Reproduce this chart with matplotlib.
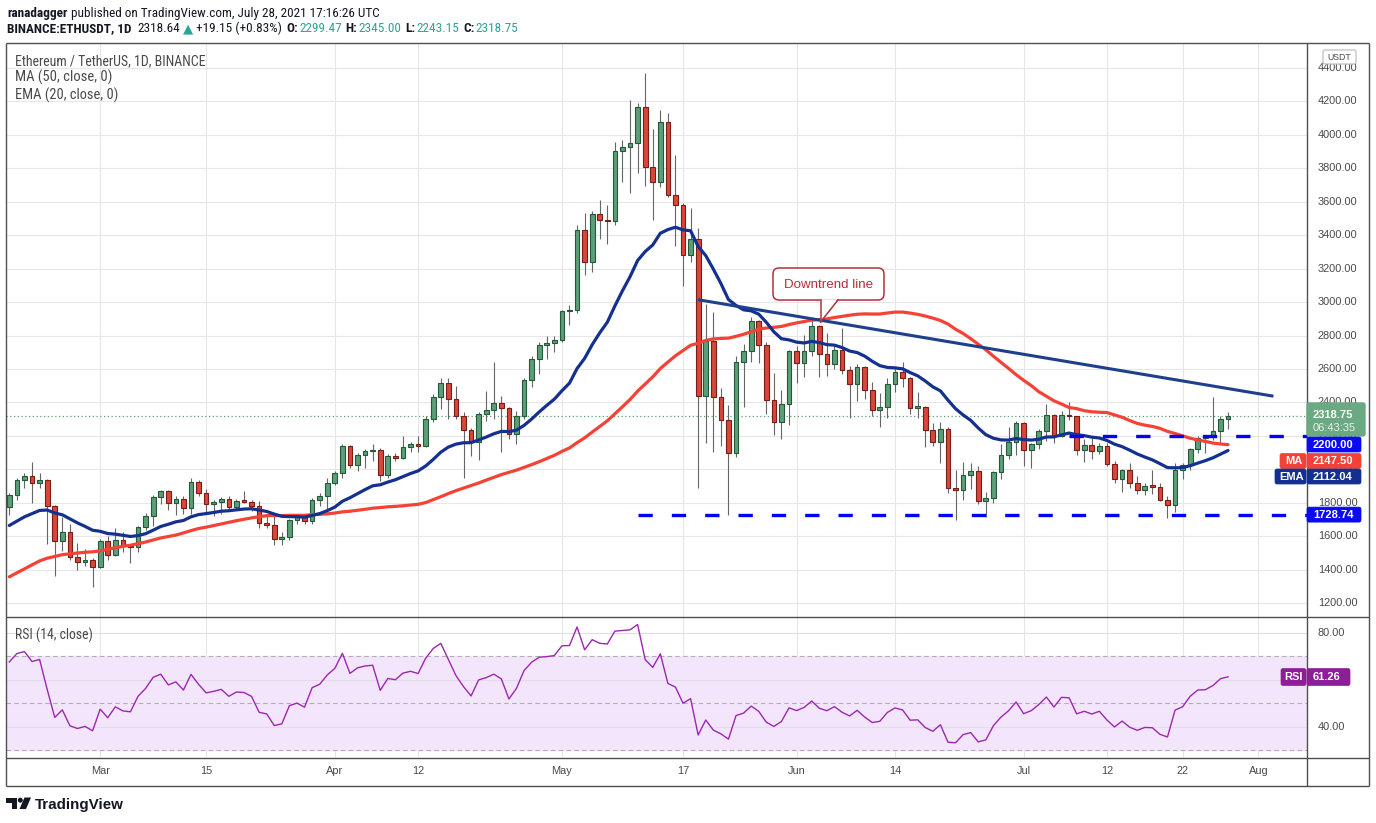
import numpy as np
import pandas as pd
import matplotlib
matplotlib.use("Agg")
import matplotlib.pyplot as plt
from matplotlib.patches import Rectangle, FancyBboxPatch, Polygon, Circle
from matplotlib import font_manager

# ---------------- data ----------------
start_date = "2021-02-17"
opens = [1777, 1848, 1938, 1960, 1915, 1935, 1780, 1570, 1626, 1475, 1446, 1460,
         1417, 1568, 1490, 1575, 1540, 1532, 1653, 1723, 1834, 1868, 1796, 1825, 1770, 1924, 1855, 1792,
         1806, 1822, 1776, 1809, 1806, 1783, 1680, 1669, 1583, 1592, 1697, 1713, 1688, 1817, 1843,
         1918, 1977, 2142, 2028, 2088, 2108, 2116, 1966, 2077, 2069, 2133, 2151, 2139, 2299, 2432,
         2514, 2422, 2317, 2237, 2164, 2331, 2357, 2397, 2364, 2210, 2316, 2534, 2662, 2746, 2756,
         2773, 2945, 2950, 3431, 3240, 3524, 3490, 3484, 3902, 3928, 3952, 4168, 3810, 3716, 4077,
         3643, 3580, 3282, 3375, 2437, 2765, 2430, 2295, 2100, 2643, 2707, 2888, 2743, 2415, 2280, 2388,
         2707, 2634, 2707, 2856, 2688, 2630, 2713, 2592, 2510, 2610, 2472, 2353, 2372, 2509, 2580,
         2547, 2367, 2372, 2233, 2163, 2240, 1888, 1875, 1967, 1990, 1808, 1829, 1982, 2084, 2162,
         2275, 2113, 2150, 2226, 2322, 2198, 2322, 2317, 2115, 2145, 2110, 2138, 2032, 1940, 1994,
         1916, 1875, 1898, 1895, 1818, 1787, 1995, 2025, 2124, 2187, 2190, 2230, 2299.47]
highs = [1860, 1950, 1975, 2043, 1975, 1940, 1785, 1712, 1672, 1560, 1525, 1470,
         1580, 1600, 1650, 1622, 1547, 1660, 1736, 1845, 1878, 1875, 1840, 1840, 1945, 1935, 1880, 1815,
         1835, 1840, 1825, 1870, 1815, 1812, 1720, 1730, 1624, 1700, 1730, 1733, 1830, 1860, 1950,
         1990, 2150, 2145, 2100, 2120, 2151, 2130, 2090, 2100, 2200, 2165, 2200, 2320, 2450, 2546,
         2545, 2495, 2340, 2245, 2345, 2470, 2644, 2440, 2370, 2350, 2545, 2675, 2760, 2795, 2800,
         2950, 2985, 3460, 3530, 3545, 3610, 3580, 3960, 3970, 4209, 4190, 4372, 4035, 4150, 4133,
         3880, 3590, 3565, 3441, 2988, 2939, 2485, 2385, 2678, 2749, 2913, 2890, 2760, 2574, 2474,
         2715, 2740, 2803, 2893, 2860, 2813, 2745, 2843, 2620, 2630, 2615, 2520, 2455, 2544, 2614,
         2642, 2550, 2460, 2380, 2275, 2285, 2255, 1996, 2042, 2036, 2020, 1866, 1990, 2151, 2251,
         2290, 2280, 2160, 2243, 2389, 2330, 2347, 2404, 2320, 2181, 2190, 2160, 2160, 2052, 2000,
         2040, 1960, 1920, 1996, 1916, 1840, 2040, 2040, 2130, 2201, 2200, 2434, 2319, 2345.00]
lows = [1728, 1815, 1890, 1800, 1890, 1555, 1360, 1510, 1455, 1400, 1420, 1293,
        1410, 1460, 1480, 1505, 1440, 1505, 1636, 1662, 1790, 1754, 1725, 1730, 1730, 1840, 1730, 1720,
        1730, 1765, 1762, 1800, 1750, 1650, 1650, 1545, 1548, 1575, 1670, 1670, 1670, 1780, 1765,
        1908, 1950, 2005, 1990, 2010, 2050, 1930, 1950, 2050, 2060, 2105, 2105, 2135, 2280, 2360,
        2300, 2300, 1946, 2080, 2056, 2290, 2300, 2106, 2180, 2150, 2300, 2490, 2570, 2660, 2700,
        2760, 2860, 2935, 3162, 3180, 3380, 3350, 3460, 3720, 3650, 3770, 3694, 3490, 3690, 3630,
        3337, 3098, 3238, 1886, 2155, 2101, 2141, 1727, 2076, 2374, 2640, 2634, 2330, 2205, 2181,
        2265, 2518, 2550, 2680, 2550, 2560, 2600, 2570, 2305, 2407, 2422, 2317, 2255, 2305, 2460,
        2490, 2330, 2305, 2135, 2140, 2040, 1860, 1697, 1816, 1880, 1790, 1717, 1800, 1940, 2060,
        2085, 2021, 2010, 2120, 2170, 2155, 2190, 2295, 2083, 2044, 2060, 2090, 2020, 1916, 1862,
        1890, 1852, 1844, 1850, 1810, 1708, 1747, 1944, 1996, 2100, 2100, 2175, 2151, 2243.15]
closes = [1848, 1938, 1960, 1915, 1935, 1780, 1570, 1626, 1475, 1446, 1460, 1417,
          1568, 1490, 1575, 1540, 1532, 1653, 1723, 1834, 1868, 1796, 1825, 1770, 1924, 1855, 1792, 1806,
          1822, 1776, 1809, 1806, 1783, 1680, 1669, 1583, 1592, 1697, 1713, 1688, 1817, 1843, 1918,
          1977, 2142, 2028, 2088, 2108, 2116, 1966, 2077, 2069, 2133, 2151, 2139, 2299, 2432, 2514,
          2422, 2317, 2237, 2164, 2331, 2357, 2397, 2364, 2210, 2316, 2534, 2662, 2746, 2756, 2773,
          2945, 2950, 3431, 3240, 3524, 3490, 3484, 3902, 3928, 3952, 4168, 3810, 3716, 4077, 3643,
          3580, 3282, 3375, 2437, 2765, 2430, 2295, 2100, 2643, 2707, 2888, 2743, 2415, 2280, 2388,
          2707, 2634, 2707, 2856, 2688, 2630, 2713, 2592, 2510, 2610, 2472, 2353, 2372, 2509, 2580,
          2547, 2367, 2372, 2233, 2163, 2240, 1888, 1875, 1967, 1990, 1808, 1829, 1982, 2084, 2162,
          2275, 2113, 2150, 2226, 2322, 2198, 2322, 2317, 2115, 2145, 2110, 2138, 2032, 1940, 1994,
          1916, 1875, 1898, 1895, 1818, 1787, 1995, 2025, 2124, 2187, 2190, 2230, 2299.47, 2318.75]
# closes before the first visible candle (Dec 1 2020 .. Feb 16 2021), needed by MA/EMA/RSI
warmup_closes = [587.0, 598.2, 616.2, 569.5, 596.3, 601.9, 591.9, 554.8, 573.2, 559.6, 545.6, 568.8,
                 590.4, 586.4, 588.6, 636.2, 642.8, 654.8, 659.3, 638.3, 609.7, 634.9, 583.9, 611.9,
                 626.6, 635.4, 682.6, 731.0, 732.0, 751.6, 737.8,
                 730.4, 774.6, 975.5, 1040.7, 1100.2, 1208.1, 1225.7, 1224.9, 1281.9, 1262.2, 1090.1,
                 1043.4, 1130.3, 1218.2, 1171.3, 1233.5, 1230.2, 1257.2, 1377.3, 1382.5, 1121.6, 1236.4,
                 1230.6, 1391.6, 1324.4, 1357.1, 1253.2, 1332.5, 1382.2, 1376.1, 1314.9,
                 1369.0, 1515.2, 1660.7, 1594.8, 1718.7, 1677.5, 1614.2, 1750.0, 1769.1, 1742.7,
                 1783.8, 1843.5, 1813.6, 1805.4, 1779.3, 1781.9]

tick_dates = ["2021-03-01", "2021-03-15", "2021-04-01", "2021-04-12", "2021-05-01", "2021-05-17",
              "2021-06-01", "2021-06-14", "2021-07-01", "2021-07-12", "2021-07-22", "2021-08-01"]
tick_labels = ["Mar", "15", "Apr", "12", "May", "17", "Jun", "14", "Jul", "12", "22", "Aug"]
price_ticks = [1200, 1400, 1600, 1800, 2000, 2200, 2400, 2600, 2800, 3000, 3200, 3400,
               3600, 3800, 4000, 4200, 4400]
rsi_label_ticks = [40, 80]
trend_dates = ["2021-05-19", "2021-08-03"]
trend_values = [3014, 2437]
resistance_level, resistance_start = 2200.00, "2021-07-07"
support_level, support_start = 1728.74, "2021-05-11"
last_price = 2318.75
ma_last, ema_last, rsi_last = 2147.50, 2112.04, 61.26
countdown = "06:43:35"

# ---------------- indicators ----------------
n = len(closes)
x = np.arange(n)
dates = pd.date_range(start_date, periods=n, freq="D")
def didx(d):
    return (pd.Timestamp(d) - dates[0]).days

allc = pd.Series(warmup_closes + closes, dtype=float)
ma = allc.rolling(50).mean().iloc[-n:].to_numpy()
ema = allc.ewm(span=20, adjust=False).mean().iloc[-n:].to_numpy()
delta = allc.diff()
gain = delta.clip(lower=0).ewm(alpha=1 / 14, adjust=False).mean()
loss = (-delta.clip(upper=0)).ewm(alpha=1 / 14, adjust=False).mean()
rsi = (100 - 100 / (1 + gain / loss)).iloc[-n:].to_numpy()

# ---------------- fonts ----------------
names = {f.name for f in font_manager.fontManager.ttflist}
narrow = next((f for f in ["Liberation Sans Narrow", "Roboto Condensed", "Open Sans Condensed"] if f in names),
              "Liberation Sans")
axfont = "Liberation Sans"

# ---------------- figure ----------------
W, H = 1376, 823
fig = plt.figure(figsize=(W / 100, H / 100), dpi=100)
fig.patch.set_facecolor("white")

def axrect(l, t, r, b):
    return [l / W, 1 - b / H, (r - l) / W, (b - t) / H]

ax = fig.add_axes(axrect(6, 43, 1307, 617))
rax = fig.add_axes(axrect(6, 617, 1307, 758))
XL = (-0.44, 171.43)
for a in (ax, rax):
    a.set_xlim(*XL)
    a.set_xticks([]); a.set_yticks([])
    for s in a.spines.values():
        s.set_visible(False)
    a.set_facecolor("white")
ax.set_ylim(1116.3, 4549.5)
rax.set_ylim(26.8, 86.8)

GRID = "#e7e7e7"
tick_idx = [didx(d) for d in tick_dates]
for a in (ax, rax):
    for t in tick_idx:
        a.axvline(t, color=GRID, lw=0.8, zorder=0)
for p in price_ticks:
    ax.axhline(p, color=GRID, lw=0.8, zorder=0)

# candles
UPF, UPE, DNF, DNE, WICK = "#5b9e78", "#225a3a", "#d8473b", "#7a1d15", "#666666"
ax.vlines(x, lows, highs, color=WICK, lw=0.8, zorder=2)
for i in range(n):
    o, c = opens[i], closes[i]
    up = c >= o
    bot = min(o, c)
    hgt = max(abs(c - o), 9)
    ax.add_patch(Rectangle((i - 0.31, bot), 0.62, hgt, facecolor=UPF if up else DNF,
                           edgecolor=UPE if up else DNE, lw=0.8, zorder=3))

ax.axhline(last_price, color="#5a9f75", lw=0.9, ls=(0, (1, 2)), zorder=1)
ax.plot(x, ma, color="#f44336", lw=2.3, zorder=5, solid_capstyle="round")
ax.plot(x, ema, color="#14318f", lw=2.3, zorder=5, solid_capstyle="round")
ax.plot([didx(d) for d in trend_dates], trend_values, color="#1e3f8b", lw=2.2, zorder=6,
        solid_capstyle="butt")
ax.plot([didx(resistance_start), XL[1]], [resistance_level] * 2, color="#0000ff", lw=2.4,
        dashes=(4.3, 5.7), dash_capstyle="butt", zorder=6)
ax.plot([didx(support_start), XL[1]], [support_level] * 2, color="#0000ff", lw=2.4,
        dashes=(4.3, 5.7), dash_capstyle="butt", zorder=6)

# RSI pane
rax.axhspan(30, 70, color="#f3e6fc", zorder=0)
for lv in (40, 60, 80):
    rax.axhline(lv, color="#e2dbe8", lw=0.8, zorder=0.5)
for lv in (30, 50, 70):
    rax.axhline(lv, color="#b0b0b0", lw=0.8, ls=(0, (4, 3)), zorder=0.6)
rax.plot(x, rsi, color="#9c27b0", lw=1.0, zorder=3)

# ---------------- overlay (pixel coordinates) ----------------
ov = fig.add_axes([0, 0, 1, 1], zorder=10)
ov.set_xlim(0, W); ov.set_ylim(H, 0); ov.axis("off"); ov.patch.set_alpha(0)
renderer = fig.canvas.get_renderer()

def ypx(a, v):
    return H - a.transData.transform((0, v))[1]

def xpx(a, v):
    return a.transData.transform((v, 0))[0]

# frame
BORDER = "#505050"
for (x0, y0, x1, y1) in [(6, 43, 1369, 43), (6, 786, 1369, 786), (6, 43, 6, 786), (1369, 43, 1369, 786),
                         (1307, 43, 1307, 786), (6, 617, 1369, 617), (6, 758, 1369, 758)]:
    ov.plot([x0, x1], [y0, y1], color=BORDER, lw=1.0, zorder=1, solid_capstyle="butt")

# price labels
LBL = "#4a4a4a"
for p in price_ticks:
    ov.text(1318, ypx(ax, p), f"{p:.2f}", fontsize=7.9, color=LBL, family=axfont,
            va="center", ha="left", zorder=2)
for r in rsi_label_ticks:
    ov.text(1318, ypx(rax, r), f"{r:.2f}", fontsize=7.9, color=LBL, family=axfont,
            va="center", ha="left", zorder=2)
for t, lab in zip(tick_idx, tick_labels):
    ov.text(xpx(ax, t), 771.5, lab, fontsize=7.9, color=LBL, family=axfont,
            va="center", ha="center", zorder=2)

# USDT box
ov.add_patch(FancyBboxPatch((1323, 50), 33, 14, boxstyle="round,pad=0,rounding_size=2",
                            fc="white", ec="#b8b8b8", lw=0.8, zorder=3))
ov.text(1339.5, 57.3, "USDT", fontsize=6.3, color=LBL, family=axfont, ha="center", va="center", zorder=4)

def tag(x0, x1, yc, h, fc, text, fs=8.0, tx=None):
    ov.add_patch(FancyBboxPatch((x0, yc - h / 2), x1 - x0, h, boxstyle="round,pad=0,rounding_size=2",
                                fc=fc, ec=fc, lw=0.5, zorder=5))
    ov.text(tx if tx is not None else x0 + 6, yc + 0.3, text, fontsize=fs, color="white",
            family=axfont, fontweight="bold", va="center", ha="left", zorder=6)

# current price tag
yl = ypx(ax, last_price)
ov.add_patch(FancyBboxPatch((1307, yl - 13), 58, 33, boxstyle="round,pad=0,rounding_size=2",
                            fc="#6aa982", ec="#6aa982", zorder=5))
ov.text(1313, yl - 0.5, f"{last_price:.2f}", fontsize=8.0, color="white", family=axfont,
        fontweight="bold", va="center", ha="left", zorder=6)
ov.text(1313, yl + 12, countdown, fontsize=8.0, color="#e8f3ec", family=axfont,
        va="center", ha="left", zorder=6)
# stacked tags (collision-resolved layout)
tag(1307, 1361, 444.5, 15, "#0b0bf2", f"{resistance_level:.2f}")
tag(1307, 1361, 461.0, 15, "#f24236", f"{ma_last:.2f}")
tag(1280, 1306, 461.0, 15, "#f24236", "MA", tx=1285)
tag(1307, 1361, 476.5, 15, "#13308e", f"{ema_last:.2f}")
tag(1275, 1306, 476.5, 15, "#13308e", "EMA", tx=1279)
tag(1307, 1361, ypx(ax, support_level), 15, "#0b0bf2", f"{support_level:.2f}")
yr = ypx(rax, rsi_last)
tag(1307, 1350, yr, 17, "#8c1e98", f"{rsi_last:.2f}")
tag(1281, 1306, yr, 17, "#8c1e98", "RSI", tx=1284)

# callout
RED = "#b3303a"
ov.add_patch(FancyBboxPatch((773, 268), 111, 32, boxstyle="round,pad=0,rounding_size=6",
                            fc="white", ec=RED, lw=1.1, zorder=7))
ov.add_patch(Polygon([(820.6, 299.2), (837.4, 299.2), (820.6, 321)], closed=True, fc="white",
                     ec="none", zorder=8))
ov.plot([820.5, 820.5], [300, 322], color=RED, lw=1.1, zorder=9)
ov.plot([838, 820.5], [300, 322], color=RED, lw=1.1, zorder=9)
ov.text(828.5, 284.5, "Downtrend line", fontsize=9.6, color=RED, family=axfont,
        ha="center", va="center", zorder=9)

# sequential texts
def draw_seq(parts, x0, y, size, family, target=None, zorder=4):
    objs = []
    xx = x0
    for s, w, c, g in parts:
        t = ov.text(xx, y, s, fontsize=size, fontweight=w, color=c, family=[family, "DejaVu Sans"],
                    va="baseline", ha="left", zorder=zorder)
        xx += t.get_window_extent(renderer).width + g
        objs.append(t)
    total = xx - x0 - parts[-1][3]
    if target is not None:
        for t in objs:
            t.remove()
        return draw_seq(parts, x0, y, size * target / total, family, None, zorder)
    return total

DARK = "#131722"
TEAL = "#2aa597"
draw_seq([("ranadagger", "bold", DARK, 3.5),
          ("published on TradingView.com, July 28, 2021 17:16:26 UTC", "normal", DARK, 0)],
         7, 16.8, 10, narrow, target=373)
draw_seq([("BINANCE:ETHUSDT, 1D", "bold", DARK, 6), ("2318.64", "normal", DARK, 3),
          ("\u25B2", "normal", TEAL, 3), ("+19.15 (+0.83%)", "normal", DARK, 4),
          ("O:", "bold", DARK, 1), ("2299.47", "normal", TEAL, 4),
          ("H:", "bold", DARK, 1), ("2345.00", "normal", TEAL, 4),
          ("L:", "bold", DARK, 1), ("2243.15", "normal", TEAL, 4),
          ("C:", "bold", DARK, 1), ("2318.75", "normal", TEAL, 0)],
         7, 32.3, 10, narrow, target=507)
GRAY = "#4a4a4a"
draw_seq([("Ethereum / TetherUS, 1D, BINANCE", "normal", GRAY, 0)], 15, 65, 10, narrow, target=191)
draw_seq([("MA (50, close, 0)", "normal", GRAY, 0)], 15, 82, 10, narrow, target=97)
draw_seq([("EMA (20, close, 0)", "normal", GRAY, 0)], 15, 99.5, 10, narrow, target=103)
draw_seq([("RSI (14, close)", "normal", GRAY, 0)], 15, 639.5, 10, narrow, target=78)

# TradingView logo
ov.add_patch(Polygon([(6, 797.5), (16.5, 797.5), (16.5, 809), (11.5, 809), (11.5, 802.5), (6, 802.5)],
                     closed=True, fc=DARK, ec="none", zorder=4))
ov.add_patch(Circle((20.3, 800.2), 2.5, fc=DARK, ec="none", zorder=4))
ov.add_patch(Polygon([(24.5, 797.5), (31, 797.5), (26, 809), (19.5, 809)], closed=True, fc=DARK,
                     ec="none", zorder=4))
ov.text(35, 808.7, "TradingView", fontsize=10.9, fontweight="bold", color=DARK, family=axfont,
        va="baseline", ha="left", zorder=4)

fig.savefig("out.png", dpi=100)
